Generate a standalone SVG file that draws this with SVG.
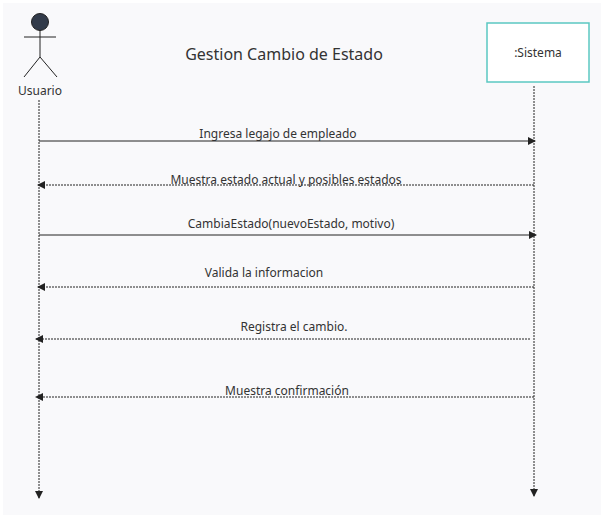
<svg xmlns="http://www.w3.org/2000/svg" width="605" height="520" viewBox="0 0 605 520">
<style>
text{font-family:"Noto Sans","Open Sans",sans-serif;fill:#333;}
.m{font-size:12px;text-anchor:middle}
.l{stroke:#222;stroke-width:1;fill:none}
.d{stroke-dasharray:2,1}
</style>
<defs>
<marker id="a" markerWidth="8" markerHeight="8" refX="7" refY="4" orient="auto" markerUnits="userSpaceOnUse"><path d="M0,0L8,4L0,8z" fill="#222"/></marker>
</defs>
<rect x="0" y="0" width="605" height="520" fill="#fff"/>
<rect x="3" y="3" width="598" height="512" fill="#f9f9fb"/>
<text x="284" y="60" font-size="16" text-anchor="middle">Gestion Cambio de Estado</text>
<g id="usuario">
<circle cx="40" cy="22" r="8.5" fill="#323b4a" stroke="#222"/>
<path class="l" d="M40,30V57M24,37H56M40,57L24,77M40,57L57,77"/>
<text x="40" y="95" font-size="12" text-anchor="middle">Usuario</text>
</g>
<g id="sistema">
<rect x="487" y="23" width="102" height="59" fill="#fff" stroke="#5bc8c2" stroke-width="1.5"/>
<text x="538" y="57" font-size="12" text-anchor="middle">:Sistema</text>
</g>
<g id="connectors">
<path class="l d" d="M39,100V498" marker-end="url(#a)"/>
<path class="l d" d="M534,86V496" marker-end="url(#a)"/>
<path class="l" d="M39,141H535" marker-end="url(#a)"/>
<path class="l d" d="M534,185H38" marker-end="url(#a)"/>
<path class="l" d="M39,235H536" marker-end="url(#a)"/>
<path class="l d" d="M534,287H38" marker-end="url(#a)"/>
<path class="l d" d="M530,339H36" marker-end="url(#a)"/>
<path class="l d" d="M534,397H36" marker-end="url(#a)"/>
<text class="m" x="278" y="138">Ingresa legajo de empleado</text>
<text class="m" x="286" y="184">Muestra estado actual y posibles estados</text>
<text class="m" x="291" y="228">CambiaEstado(nuevoEstado, motivo)</text>
<text class="m" x="264" y="277">Valida la informacion</text>
<text class="m" x="294" y="331">Registra el cambio.</text>
<text class="m" x="287" y="395">Muestra confirmación</text>
</g>
</svg>
